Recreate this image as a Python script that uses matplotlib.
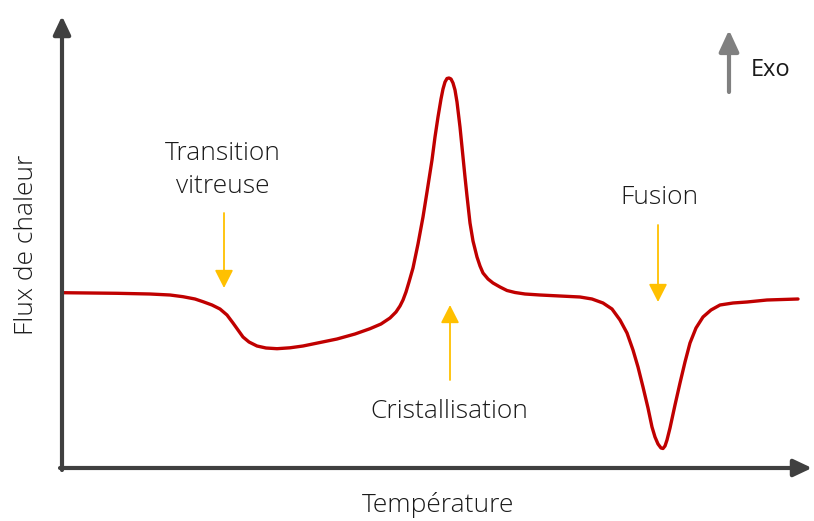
import matplotlib
matplotlib.use("Agg")
import matplotlib.pyplot as plt

# DSC schematic curve (arbitrary units: temperature -> right, heat flow -> up)
temperature = [0, 28, 55, 88, 108, 121, 133, 141, 150, 158,
               165, 171, 176, 181, 187, 195, 204, 215, 228, 241,
               258, 275, 293, 308, 319, 328, 334, 338, 341, 344,
               347, 351, 356, 361, 365, 370, 373, 376, 379, 381,
               383, 385, 387, 389, 391, 393, 395, 398, 400, 403,
               405, 408, 411, 415, 418, 421, 426, 431, 438, 445,
               453, 463, 478, 498, 518, 530, 541, 550, 558, 565,
               571, 576, 581, 586, 590, 593, 596, 599, 601, 603,
               605, 608, 613, 618, 623, 628, 634, 641, 649, 658,
               671, 685, 705, 736]
heat_flow = [175.3, 175, 174.7, 174, 173, 171.3, 169, 166.3, 163, 159,
             153, 145, 138, 131, 126, 122, 120, 119.3, 120.2, 122,
             125.5, 129, 134, 139.3, 144, 150, 156, 162, 168, 176,
             186, 200, 224, 251, 276, 308, 331, 351, 369, 379,
             386, 389.5, 390, 389, 385, 378, 366, 341, 321, 291,
             272, 245, 227, 211, 202, 195, 189, 185, 181, 177.5,
             175.5, 174, 173, 172, 171, 169, 165, 159, 148, 135,
             118, 101, 81, 60, 41, 31, 24, 20, 19.5, 22,
             28, 40, 63, 85, 106, 125, 140, 151, 158, 163,
             165, 166, 168, 169]

# labels
x_label = "Température"
y_label = "Flux de chaleur"
annotations = ["Transition\nvitreuse", "Cristallisation", "Fusion"]

red = "#c00000"
yellow = "#ffc000"
axis_col = "#404040"
text_col = "#1a1a1a"

plt.rcParams['font.family'] = ['Open Sans', 'DejaVu Sans']
plt.rcParams['font.weight'] = 'light'

fig = plt.figure(figsize=(8.14, 5.21), dpi=100)
ax = fig.add_axes([0, 0, 1, 1])
ax.set_xlim(-62, 752)
ax.set_ylim(-53, 468)
ax.axis("off")

# axes with arrow heads
axis_arrow = dict(arrowstyle="-|>,head_length=0.55,head_width=0.26", lw=3,
                  color=axis_col, mutation_scale=20, shrinkA=0, shrinkB=0)
ax.annotate("", xy=(0, 452), xytext=(0, -2), arrowprops=axis_arrow)
ax.annotate("", xy=(750, 0), xytext=(-2, 0), arrowprops=axis_arrow)

# curve
ax.plot(temperature, heat_flow, color=red, lw=2.4, solid_joinstyle="round",
        solid_capstyle="round")

# yellow markers
ann_arrow = dict(arrowstyle="-|>,head_length=0.55,head_width=0.28", lw=1.3,
                 color=yellow, mutation_scale=20, shrinkA=0, shrinkB=0)
ax.annotate("", xy=(162, 180), xytext=(162, 255), arrowprops=ann_arrow)
ax.annotate("", xy=(388, 163), xytext=(388, 88), arrowprops=ann_arrow)
ax.annotate("", xy=(596, 166), xytext=(596, 243), arrowprops=ann_arrow)

ax.text(161, 298, annotations[0], ha="center", va="center", fontsize=19,
        color=text_col, linespacing=1.4)
ax.text(387, 56, annotations[1], ha="center", va="center", fontsize=19,
        color=text_col)
ax.text(597, 271, annotations[2], ha="center", va="center", fontsize=19,
        color=text_col)

# Exo indicator
ax.annotate("", xy=(667, 438), xytext=(667, 376),
            arrowprops=dict(arrowstyle="-|>,head_length=0.65,head_width=0.3",
                            lw=3, color="#808080", mutation_scale=20,
                            shrinkA=0, shrinkB=0))
ax.text(689, 398, "Exo", ha="left", va="center", fontsize=17,
        color=text_col, fontweight="normal")

# axis titles
ax.text(376, -37, x_label, ha="center", va="center", fontsize=19,
        color=text_col)
ax.text(-35, 223, y_label, ha="center", va="center", fontsize=19,
        color=text_col, rotation=90)

plt.savefig("out.png", dpi=100)
